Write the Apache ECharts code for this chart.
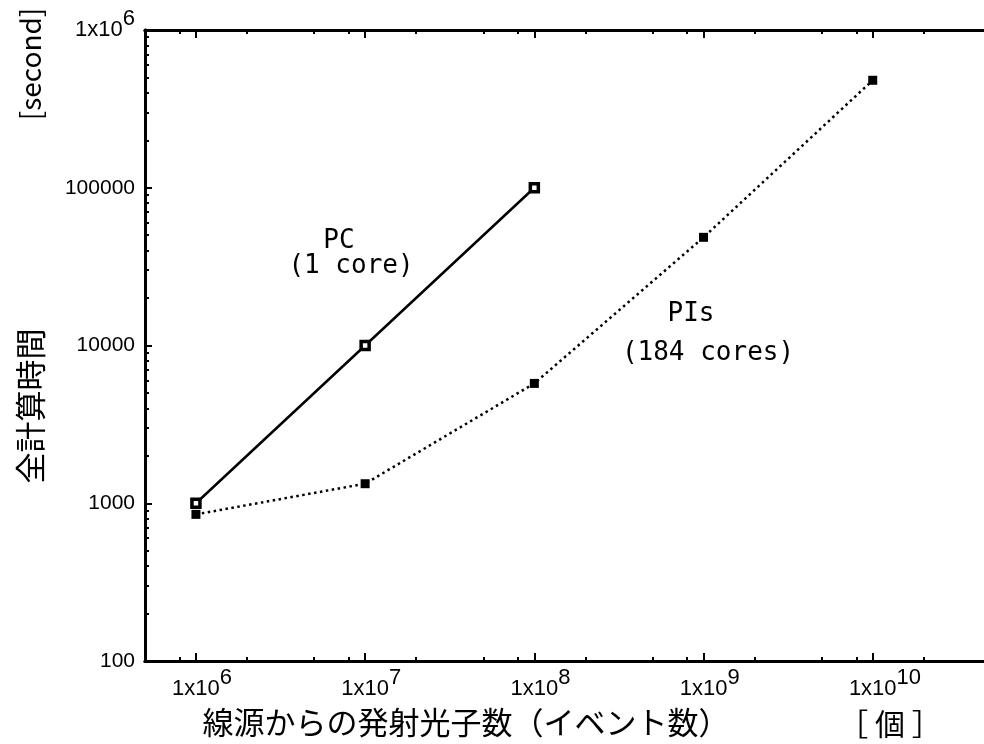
<!DOCTYPE html>
<html>
<head>
<meta charset="utf-8">
<script src="https://cdn.jsdelivr.net/npm/echarts@6/dist/echarts.min.js"></script>
<style>html,body{margin:0;padding:0;background:#fff;}#c{width:984px;height:744px;}</style>
</head>
<body>
<div id="c"></div>
<script>
const photonCounts = [1e6, 1e7, 1e8, 1e9, 1e10];
const pcTimes = [1000, 10000, 100000];
const piTimes = [850, 1330, 5750, 48500, 480000];
const xMajorTicks = [1e6, 1e7, 1e8, 1e9, 1e10];
const xMinorTicks = [8e5, 2e6, 5e6, 8e6, 2e7, 5e7, 8e7, 2e8, 5e8, 8e8, 2e9, 5e9, 8e9, 2e10];
const yMajorTicks = [100, 1000, 10000, 100000, 1000000];
const yMinorTicks = [];
[100, 1000, 10000, 100000].forEach(function (d) { for (let k = 2; k <= 9; k++) yMinorTicks.push(d * k); });

const X_MIN = 5e5, X_MAX = 5e10, Y_MIN = 100, Y_MAX = 1e6;
const labelFont = 'Liberation Sans, Arial, sans-serif';
const rich = {
  a: { fontSize: 21, fontFamily: labelFont, color: '#000' },
  p: { fontSize: 22, fontFamily: labelFont, color: '#000' },
  h: { fontSize: 22, fontFamily: labelFont, color: 'rgba(0,0,0,0)', padding: [0, 0, 22, 0] },
  s: { fontSize: 22, fontFamily: labelFont, color: '#000', padding: [0, 0, 22, 0] }
};
function powLabel(v) {
  const e = Math.round(Math.log10(v));
  return '{p|1x10}{s|' + e + '}';
}
function powLabelCentered(v) {
  const e = Math.round(Math.log10(v));
  return '{h|' + e + '}{p|1x10}{s|' + e + '}';
}

function xAxis(position, major, withLabels) {
  return {
    type: 'log', min: X_MIN, max: X_MAX, position: position,
    axisLine: { show: true, lineStyle: { color: '#000', width: 3 } },
    axisTick: { show: true, inside: true, length: major ? 8 : 4, customValues: major ? xMajorTicks : xMinorTicks, lineStyle: { color: '#000', width: 2 } },
    axisLabel: withLabels ? { show: true, customValues: xMajorTicks, formatter: powLabelCentered, rich: rich, fontSize: 22, fontFamily: labelFont, color: '#000', margin: 6 } : { show: false },
    splitLine: { show: false }, minorTick: { show: false }
  };
}
function yAxis(position, major, withLabels) {
  return {
    type: 'log', min: Y_MIN, max: Y_MAX, position: position,
    axisLine: { show: true, lineStyle: { color: '#000', width: 3 } },
    axisTick: { show: true, inside: true, length: major ? 7 : 4, customValues: major ? yMajorTicks : yMinorTicks, lineStyle: { color: '#000', width: 2 } },
    axisLabel: withLabels ? { show: true, customValues: yMajorTicks, margin: 10, fontSize: 21, fontFamily: labelFont, color: '#000',
      formatter: function (v) { return v >= 1e6 ? powLabel(v) : '{a|' + Math.round(v) + '}'; }, rich: rich } : { show: false },
    splitLine: { show: false }, minorTick: { show: false }
  };
}

const chart = echarts.init(document.getElementById('c'), null, { renderer: 'canvas' });
chart.setOption({
  backgroundColor: '#fff',
  animation: false,
  grid: { left: 145, top: 30, width: 846, height: 631, containLabel: false, outerBoundsMode: 'none' },
  xAxis: [xAxis('bottom', true, true), xAxis('bottom', false, false), xAxis('top', true, false), xAxis('top', false, false)],
  yAxis: [yAxis('left', true, true), yAxis('left', false, false), yAxis('right', true, false), yAxis('right', false, false)],
  series: [
    {
      name: 'PIs', type: 'line', xAxisIndex: 0, yAxisIndex: 0,
      data: photonCounts.map(function (x, i) { return [x, piTimes[i]]; }),
      symbol: 'rect', symbolSize: 9,
      itemStyle: { color: '#000' },
      lineStyle: { color: '#000', width: 2.5, type: [2.5, 3.5] },
      z: 2
    },
    {
      name: 'PC', type: 'line', xAxisIndex: 0, yAxisIndex: 0,
      data: pcTimes.map(function (t, i) { return [photonCounts[i], t]; }),
      symbol: 'rect', symbolSize: 8,
      itemStyle: { color: '#fff', borderColor: '#000', borderWidth: 3.5 },
      lineStyle: { color: '#000', width: 2.5 },
      z: 3
    }
  ],
  graphic: [
    { type: 'text', x: 30, y: 64, rotation: Math.PI / 2, style: { text: '[second]', font: '28px "Noto Sans CJK JP"', fill: '#000', align: 'center', verticalAlign: 'middle' } },
    { type: 'text', x: 30, y: 406, rotation: Math.PI / 2, style: { text: '全計算時間', font: '31px "Noto Sans CJK JP"', fill: '#000', align: 'center', verticalAlign: 'middle' } },
    { type: 'text', x: 466, y: 722, style: { text: '線源からの発射光子数（イベント数）', font: '31px "Noto Sans CJK JP"', fill: '#000', align: 'center', verticalAlign: 'middle' } },
    { type: 'text', x: 890, y: 724, style: { text: '［ 個 ］', font: '30px "Noto Sans CJK JP"', fill: '#000', align: 'center', verticalAlign: 'middle' } },
    { type: 'text', x: 339, y: 241, style: { text: 'PC', font: '26px "DejaVu Sans Mono"', fill: '#000', align: 'center', verticalAlign: 'middle' } },
    { type: 'text', x: 351, y: 266, style: { text: '(1 core)', font: '26px "DejaVu Sans Mono"', fill: '#000', align: 'center', verticalAlign: 'middle' } },
    { type: 'text', x: 691, y: 314, style: { text: 'PIs', font: '26px "DejaVu Sans Mono"', fill: '#000', align: 'center', verticalAlign: 'middle' } },
    { type: 'text', x: 708, y: 353, style: { text: '(184 cores)', font: '26px "DejaVu Sans Mono"', fill: '#000', align: 'center', verticalAlign: 'middle' } }
  ]
});
</script>
</body>
</html>
